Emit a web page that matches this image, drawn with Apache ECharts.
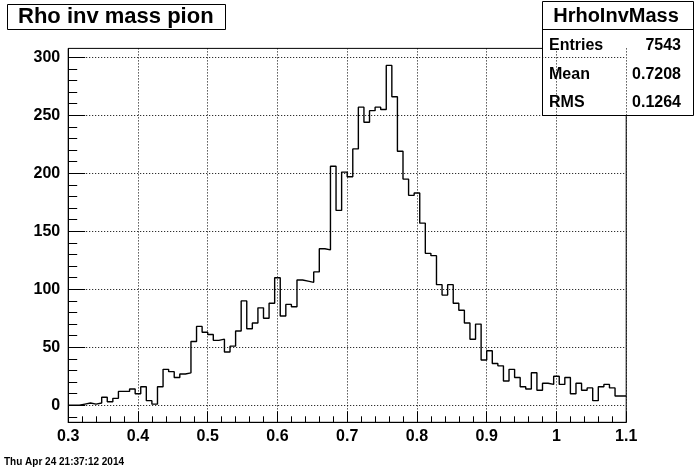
<!DOCTYPE html>
<html><head><meta charset="utf-8">
<script src="https://cdn.jsdelivr.net/npm/echarts@6/dist/echarts.min.js"></script>
<style>html,body{margin:0;padding:0;background:#fff}#c{width:696px;height:472px}</style>
</head><body><div id="c"></div>
<script>
// Histogram binning (x in GeV), 100 bins from 0.3 to 1.1
const binLow = 0.3;
const binWidth = 0.008;
const counts = [
  0, 0, 1, 2, 1, 2, 7, 3, 6, 12,
  12, 14, 10, 16, 4, 1, 16, 31, 29, 24,
  27, 28, 55, 68, 63, 61, 56, 57, 46, 51,
  64, 90, 66, 71, 84, 75, 88, 110, 77, 87,
  85, 108, 107, 106, 115, 135, 134, 206, 168, 201,
  197, 221, 257, 244, 254, 257, 255, 293, 266, 219,
  195, 181, 183, 157, 131, 129, 104, 95, 104, 88,
  82, 71, 57, 70, 39, 47, 36, 34, 21, 31,
  24, 16, 14, 28, 13, 19, 18, 25, 18, 24,
  10, 19, 13, 15, 4, 16, 18, 15, 8, 8
];
const xRange = [0.3, 1.1];
const xTickStep = 0.1;
const yRange = [-14.65, 307.65];
const yMajorTicks = [0, 50, 100, 150, 200, 250, 300];
const yMinorTicks = [-10, 10, 20, 30, 40, 60, 70, 80, 90, 110, 120, 130, 140, 160, 170, 180, 190, 210, 220, 230, 240, 260, 270, 280, 290];
const titleText = 'Rho inv mass pion';
const statsName = 'HrhoInvMass';
const statsLabels = ['Entries', 'Mean', 'RMS'];
const statsValues = ['7543', '0.7208', '0.1264'];
const dateText = 'Thu Apr 24 21:37:12 2014';

const FONT = 'Liberation Sans, Arial, Helvetica, sans-serif';
const data = counts.map((v, i) => [binLow + i * binWidth, v]);
data.push([binLow + counts.length * binWidth, counts[counts.length - 1]]);

const chart = echarts.init(document.getElementById('c'), null, {renderer: 'canvas'});
const statsRowY = [45.5, 74.5, 103];
const statsGraphics = [];
statsLabels.forEach((lab, i) => {
  statsGraphics.push({type: 'text', x: 549, y: statsRowY[i], style: {text: lab, font: 'bold 16px ' + FONT, fill: '#000', textVerticalAlign: 'middle'}});
  statsGraphics.push({type: 'text', x: 681, y: statsRowY[i], style: {text: statsValues[i], font: 'bold 16px ' + FONT, fill: '#000', textAlign: 'right', textVerticalAlign: 'middle'}});
});

chart.setOption({
  animation: false,
  backgroundColor: '#fff',
  grid: {left: 68.2, right: 69.8, top: 48.4, bottom: 49.7, show: true, borderColor: '#000', borderWidth: 1, backgroundColor: 'transparent', outerBoundsMode: 'none', containLabel: false},
  xAxis: {
    type: 'value', min: xRange[0], max: xRange[1], interval: xTickStep,
    axisLine: {show: true, onZero: false, lineStyle: {color: '#000', width: 1}},
    axisTick: {show: true, inside: true, length: 11, lineStyle: {color: '#000', width: 1}},
    minorTick: {show: true, splitNumber: 5, length: 6, lineStyle: {color: '#000', width: 1}},
    axisLabel: {color: '#000', fontSize: 16, fontWeight: 'bold', fontFamily: FONT, margin: 6, showMinLabel: true, showMaxLabel: true},
    splitLine: {show: true, lineStyle: {color: '#000', width: 1, type: [1, 2]}}
  },
  yAxis: [{
    type: 'value', min: yRange[0], max: yRange[1],
    axisLine: {show: true, onZero: false, lineStyle: {color: '#000', width: 1}},
    axisTick: {show: true, inside: true, length: 17, customValues: yMajorTicks, lineStyle: {color: '#000', width: 1}},
    axisLabel: {color: '#000', fontSize: 16, fontWeight: 'bold', fontFamily: FONT, margin: 8, customValues: yMajorTicks},
    splitLine: {show: true, lineStyle: {color: '#000', width: 1, type: [1, 2]}}
  }, {
    type: 'value', min: yRange[0], max: yRange[1], position: 'left',
    axisLine: {show: false, onZero: false},
    axisTick: {show: true, inside: true, length: 9, customValues: yMinorTicks, lineStyle: {color: '#000', width: 1}},
    axisLabel: {show: false},
    splitLine: {show: false}
  }],
  series: [{
    type: 'line', step: 'end', data: data, symbol: 'none', showSymbol: false,
    lineStyle: {color: '#000', width: 1.4}, clip: true, silent: true
  }],
  graphic: [
    {type: 'rect', shape: {x: 7.5, y: 4.5, width: 218, height: 25}, style: {fill: '#fff', stroke: '#000', lineWidth: 1}},
    {type: 'text', x: 18, y: 17, style: {text: titleText, font: 'bold 22px ' + FONT, fill: '#000', textVerticalAlign: 'middle'}},
    {type: 'rect', shape: {x: 542.5, y: 1.5, width: 151, height: 114}, style: {fill: '#fff', stroke: '#000', lineWidth: 1}},
    {type: 'line', shape: {x1: 542.5, y1: 29.5, x2: 693.5, y2: 29.5}, style: {stroke: '#000', lineWidth: 1}},
    {type: 'text', x: 616, y: 16, style: {text: statsName, font: 'bold 20px ' + FONT, fill: '#000', textAlign: 'center', textVerticalAlign: 'middle'}},
    ...statsGraphics,
    {type: 'text', x: 4, y: 462, style: {text: dateText, font: 'bold 10px ' + FONT, fill: '#000', textVerticalAlign: 'middle'}}
  ]
});
</script></body></html>
